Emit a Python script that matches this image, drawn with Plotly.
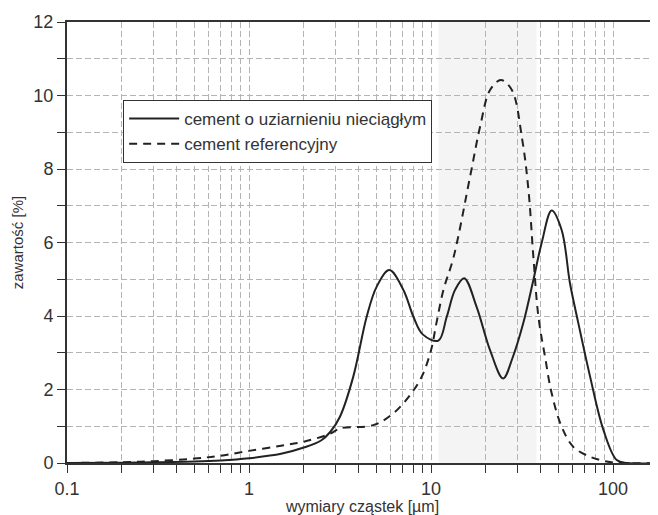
import plotly.graph_objects as go

# --- data ---
size_solid = [0.1, 0.2, 0.3, 0.5, 0.7, 1, 1.5, 2, 2.5, 2.8, 3.16, 3.74, 4.43, 5.03, 5.9, 7.05, 8.0,
              9.0, 10.97, 12.2, 13.55, 15.2, 17.8, 21.1, 24.9, 28, 32.1, 36.5, 40.5, 46, 52.2,
              58, 64.5, 74.8, 88.5, 104.8, 120, 200]
val_solid = [0, 0.01, 0.02, 0.04, 0.07, 0.13, 0.25, 0.42, 0.62, 0.85, 1.26, 2.35, 3.98, 4.80, 5.25,
             4.71, 3.98, 3.5, 3.33, 3.98, 4.71, 5.03, 4.25, 3.07, 2.30, 2.85, 3.80, 4.98,
             5.98, 6.87, 6.34, 4.89, 3.80, 2.35, 0.90, 0.08, 0, 0]

size_dash = [0.1, 0.2, 0.3, 0.5, 0.7, 1, 1.5, 2, 2.8, 3.16, 4.82, 6.2, 7.67, 8.89, 10, 10.7, 11.7,
             13.3, 16.4, 18.6, 21.1, 24.2, 27.8, 31.7, 34.3, 36.5, 38.9, 42.3, 46, 52.2, 60.5,
             74.8, 92.3, 110, 200]
val_dash = [0, 0.02, 0.05, 0.12, 0.2, 0.33, 0.47, 0.58, 0.8, 0.94, 1.03, 1.35, 1.85, 2.35, 3.07,
            3.80, 4.71, 5.6, 7.8, 9.15, 10.15, 10.42, 10.15, 8.8, 7.43, 5.61, 3.98, 2.89, 1.9,
            0.99, 0.44, 0.17, 0.04, 0, 0]

name_solid = "cement o uziarnieniu nieciągłym"
name_dash = "cement referencyjny"

x_tickvals = [m * 10 ** e for e in (-1, 0, 1, 2) for m in range(1, 10) if m * 10 ** e <= 200]
x_ticktext = [("%g" % v) if v in (0.1, 1, 10, 100) else "" for v in x_tickvals]
y_tickvals = list(range(0, 13))
y_ticktext = [str(v) if v % 2 == 0 else "" for v in y_tickvals]

fig = go.Figure()
fig.add_trace(go.Scatter(x=size_solid, y=val_solid, mode="lines", name=name_solid,
                         line=dict(color="#222222", width=2, shape="spline", smoothing=1.0)))
fig.add_trace(go.Scatter(x=size_dash, y=val_dash, mode="lines", name=name_dash,
                         line=dict(color="#222222", width=2, dash="8px,6px", shape="spline",
                                   smoothing=1.0)))

# faint scan shading
fig.add_shape(type="rect", xref="x", yref="y", x0=11, x1=38, y0=0, y1=12,
              fillcolor="rgba(0,0,0,0.045)", line=dict(width=0), layer="below")

font = "Liberation Sans, Arial, sans-serif"
grid = dict(showgrid=True, gridcolor="#b4b4b4", griddash="6px,3px", gridwidth=1)
# page body has an 8px margin, so the figure is 650x507 and offset by (8, 8)
fig.update_layout(
    width=650, height=507,
    margin=dict(l=59, r=0, t=14, b=52, autoexpand=False),
    paper_bgcolor="white", plot_bgcolor="white",
    font=dict(family=font, color="#333333", size=16),
    showlegend=True,
    legend=dict(x=0.095, y=0.823, xanchor="left", yanchor="top", bgcolor="white",
                bordercolor="#333333", borderwidth=1, itemwidth=50,
                font=dict(size=17, color="#333333")),
    xaxis=dict(type="log", range=[-1, 2.247], tickvals=x_tickvals, ticktext=x_ticktext,
               showline=True, linecolor="#333333", linewidth=2, mirror=True,
               ticks="outside", ticklen=8, tickcolor="#333333", tickwidth=1,
               title=dict(text="wymiary cząstek [µm]", font=dict(size=16), standoff=7),
               tickfont=dict(size=18), zeroline=False, automargin=False, **grid),
    yaxis=dict(range=[0, 12], tickvals=y_tickvals, ticktext=y_ticktext,
               showline=True, linecolor="#333333", linewidth=2,
               ticks="outside", ticklen=8, tickcolor="#333333", tickwidth=1,
               title=dict(text="zawartość [%]", font=dict(size=15), standoff=6),
               tickfont=dict(size=18), zeroline=False, automargin=False, **grid),
)

fig.write_html("out.html")
